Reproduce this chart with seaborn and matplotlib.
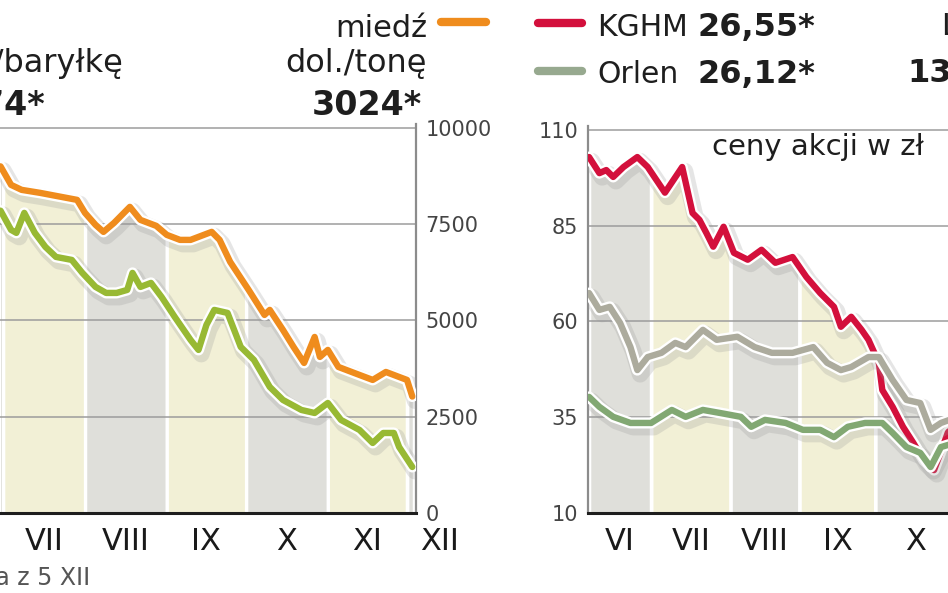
import matplotlib
matplotlib.use("Agg")
import matplotlib.pyplot as plt
import matplotlib.patheffects as pe
import matplotlib.transforms as mtransforms
from matplotlib.lines import Line2D
import numpy as np
import pandas as pd
import seaborn as sns

# left panel: days counted from 1 July
copper_day = [-1, 3, 7, 14, 22, 28, 31, 35, 38, 42, 48, 52, 58, 62, 67, 71, 75, 79, 82,
              86, 93, 99, 101, 106, 110, 114, 118, 120, 123, 127, 133, 140, 145, 150, 153, 155]
copper_val = [9000, 8519, 8390, 8312, 8208, 8130, 7792, 7481, 7299, 7532, 7948, 7610, 7455, 7221,
              7091, 7091, 7195, 7299, 7091, 6519, 5792, 5143, 5273, 4753, 4312, 3896, 4571, 4052,
              4234, 3792, 3636, 3455, 3662, 3532, 3455, 3024]
oil_day = [-1, 3, 5, 8, 12, 16, 20, 26, 30, 35, 39, 43, 47, 49, 52, 56, 60, 65, 71, 74, 77, 80,
           85, 90, 95, 101, 106, 113, 118, 123, 128, 135, 140, 144, 148, 150, 155]
oil_val = [7850, 7351, 7273, 7792, 7273, 6909, 6649, 6571, 6234, 5870, 5714, 5714, 5792, 6234,
           5870, 5974, 5610, 5091, 4494, 4234, 4883, 5273, 5195, 4312, 3974, 3273, 2935, 2675,
           2597, 2857, 2416, 2156, 1818, 2078, 2078, 1714, 1195]
left_month_start = [-30, 0, 31, 62, 92, 123, 153, 184]
left_month_names = ["VI", "VII", "VIII", "IX", "X", "XI", "XII"]
left_yticks = [0, 2500, 5000, 7500, 10000]

# right panel: session number from early June
kghm_idx = [0, 3, 5, 7, 10, 14, 17, 22, 27, 30, 32, 34, 36, 39, 42, 46, 50, 54, 59, 63, 67,
            71, 73, 76, 79, 81, 84, 85, 88, 91, 94, 97, 100, 102, 104, 106]
kghm_val = [102.9, 98.7, 99.5, 97.7, 100.3, 102.9, 100.3, 93.6, 100.3, 88.3, 86.5, 83.1, 79.5,
            84.7, 77.9, 76.1, 78.7, 75.3, 76.8, 71.6, 67.4, 63.8, 58.6, 61.2, 57.8, 55.2, 49.2,
            42.1, 37.7, 32.5, 28.3, 23.8, 21.2, 26.0, 31.0, 33.0]
lotos_idx = [0, 3, 6, 9, 12, 14, 17, 21, 25, 28, 33, 37, 43, 48, 53, 59, 65, 69, 73, 76, 81,
             84, 88, 92, 96, 99, 102, 106]
lotos_val = [67.4, 63.0, 63.8, 59.6, 53.3, 47.3, 50.7, 51.8, 54.4, 53.3, 57.8, 55.2, 56.0, 53.3,
             51.8, 51.8, 53.3, 49.2, 47.3, 48.1, 50.7, 50.7, 44.7, 39.5, 38.7, 31.7, 33.5, 34.8]
orlen_idx = [0, 3, 7, 12, 18, 24, 28, 33, 38, 44, 47, 51, 57, 62, 67, 71, 75, 80, 85, 88, 92,
             96, 99, 102, 106]
orlen_val = [40.3, 37.7, 35.1, 33.5, 33.5, 36.9, 35.1, 36.9, 36.1, 35.1, 32.5, 34.3, 33.5, 31.7,
             31.7, 29.8, 32.5, 33.5, 33.5, 30.9, 27.2, 25.7, 22.0, 27.2, 28.3]
right_month_start = [0, 18, 41, 61, 83, 106, 126]
right_month_names = ["VI", "VII", "VIII", "IX", "X", "XI"]
right_yticks = [10, 35, 60, 85, 110]

W, H = 948, 593

sns.set_style("white")
plt.rcParams["font.family"] = ["DejaVu Sans"]

fig = plt.figure(figsize=(W / 100, H / 100), dpi=100)


def fx(px):
    return px / W


def fy(py):
    return 1 - py / H


def draw_bands(ax, starts, series, ymin, gap):
    grid = np.linspace(starts[0], starts[-1], 2000)
    env = np.nanmax([np.interp(grid, x, y, left=np.nan, right=np.nan) for x, y in series], axis=0)
    for i in range(len(starts) - 1):
        m = (grid >= starts[i] + gap) & (grid <= starts[i + 1] - gap) & ~np.isnan(env)
        col = "#dfdfda" if i % 2 == 0 else "#f2f0d6"
        ax.fill_between(grid[m], ymin, env[m], color=col, lw=0, zorder=0)


def line_fx():
    return [pe.SimpleLineShadow(offset=(2, -3), shadow_color="#9a9a9a", alpha=0.25, linewidth=12),
            pe.Stroke(linewidth=8, foreground="white"), pe.Normal()]


def style_axes(ax, starts, names, ylim, yticks, side):
    ax.set_ylim(*ylim)
    ax.set_yticks(yticks)
    ax.set_yticklabels([str(t) for t in yticks])
    ax.set_axisbelow(True)
    ax.yaxis.grid(True, color="#9c9c9c", lw=1.1)
    ax.xaxis.grid(False)
    for s in ax.spines.values():
        s.set_visible(False)
    ax.spines["bottom"].set_visible(True)
    ax.spines["bottom"].set_color("#1e1e1e")
    ax.spines["bottom"].set_linewidth(2.2)
    ax.spines[side].set_visible(True)
    ax.spines[side].set_color("#8c8c8c")
    ax.spines[side].set_linewidth(1.6)
    if side == "right":
        ax.yaxis.tick_right()
    ax.tick_params(axis="y", length=0, pad=7, labelsize=15, labelcolor="#444444")
    ax.set_xticks(starts[1:-1])
    ax.set_xticklabels([])
    ax.tick_params(axis="x", which="major", length=16, width=1, color="#555555", direction="out")
    ax.set_xticks([(a + b) / 2 for a, b in zip(starts[:-1], starts[1:])], minor=True)
    ax.set_xticklabels(names, minor=True)
    ax.tick_params(axis="x", which="minor", length=0, pad=10, labelsize=22, labelcolor="#1a1a1a")
    ax.set_xlabel("")
    ax.set_ylabel("")


# left panel
axl = fig.add_axes([0.0, 1 - 513 / H, 416 / W, (513 - 124) / H])
draw_bands(axl, left_month_start, [(copper_day, copper_val), (oil_day, oil_val)], 0, 0.6)
df_l = pd.concat([
    pd.DataFrame({"day": copper_day, "value": copper_val, "series": "miedź"}),
    pd.DataFrame({"day": oil_day, "value": oil_val, "series": "ropa"}),
])
for name, col in [("miedź", "#ef8c1d"), ("ropa", "#98b934")]:
    sns.lineplot(data=df_l[df_l["series"] == name], x="day", y="value", ax=axl, color=col,
                 lw=4.6, solid_capstyle="round", path_effects=line_fx(), zorder=3)
style_axes(axl, left_month_start, left_month_names, (0, 10100), left_yticks, "right")
for lab in axl.get_yticklabels():
    lab.set_horizontalalignment("left")
axl.set_xlim(-1.2, 156.4)

# December label sits just past the right spine
xii_tr = axl.get_xaxis_transform() + mtransforms.ScaledTranslation(0, -10 / 72, fig.dpi_scale_trans)
axl.text(165.3, 0, "XII", transform=xii_tr, ha="center", va="top",
         fontsize=22, color="#1a1a1a", clip_on=False)

# right panel
axr = fig.add_axes([588 / W, 1 - 513 / H, (1041 - 588) / W, (513 - 126) / H])
draw_bands(axr, right_month_start,
           [(kghm_idx, kghm_val), (lotos_idx, lotos_val), (orlen_idx, orlen_val)], 10, 0.5)
df_r = pd.concat([
    pd.DataFrame({"idx": kghm_idx, "value": kghm_val, "series": "KGHM"}),
    pd.DataFrame({"idx": lotos_idx, "value": lotos_val, "series": "Lotos"}),
    pd.DataFrame({"idx": orlen_idx, "value": orlen_val, "series": "Orlen"}),
])
for name, col in [("KGHM", "#d3103c"), ("Lotos", "#acab9d"), ("Orlen", "#82a873")]:
    sns.lineplot(data=df_r[df_r["series"] == name], x="idx", y="value", ax=axr, color=col,
                 lw=4.6, solid_capstyle="round", path_effects=line_fx(), zorder=3)
style_axes(axr, right_month_start, right_month_names, (10, 111), right_yticks, "left")
axr.set_xlim(-0.3, 131)


# headers and legend
def ftext(px, py, s, ha="left", size=23, bold=False, color="#1e1e1e"):
    fig.text(fx(px), fy(py), s, ha=ha, va="baseline", fontsize=size,
             fontweight="bold" if bold else "normal", color=color)


ftext(712, 155, "ceny akcji w zł", size=21)
ftext(123, 72, "dol./baryłkę", ha="right")
ftext(45, 115, "41,74*", ha="right", bold=True, size=24)
ftext(427, 37, "miedź", ha="right", size=22)
ftext(427, 72, "dol./tonę", ha="right")
ftext(422, 115, "3024*", ha="right", bold=True, size=24)
ftext(597, 36, "KGHM", size=21.5)
ftext(697, 36, "26,55*", bold=True, size=23)
ftext(597, 83, "Orlen", size=21.5)
ftext(697, 83, "26,12*", bold=True, size=23)
ftext(941, 35, "Lotos", size=21.5)
ftext(907, 82, "13,20*", bold=True, size=23)
ftext(90, 585, "*cena z 5 XII", ha="right", size=17, color="#555555")

for x0, x1, y, col in [(441, 486, 22, "#ef8c1d"), (538, 582, 23, "#d3103c"), (538, 582, 71, "#97a98f")]:
    fig.add_artist(Line2D([fx(x0), fx(x1)], [fy(y), fy(y)], transform=fig.transFigure,
                          color=col, lw=6, solid_capstyle="round"))

fig.savefig("out.png", dpi=100)
